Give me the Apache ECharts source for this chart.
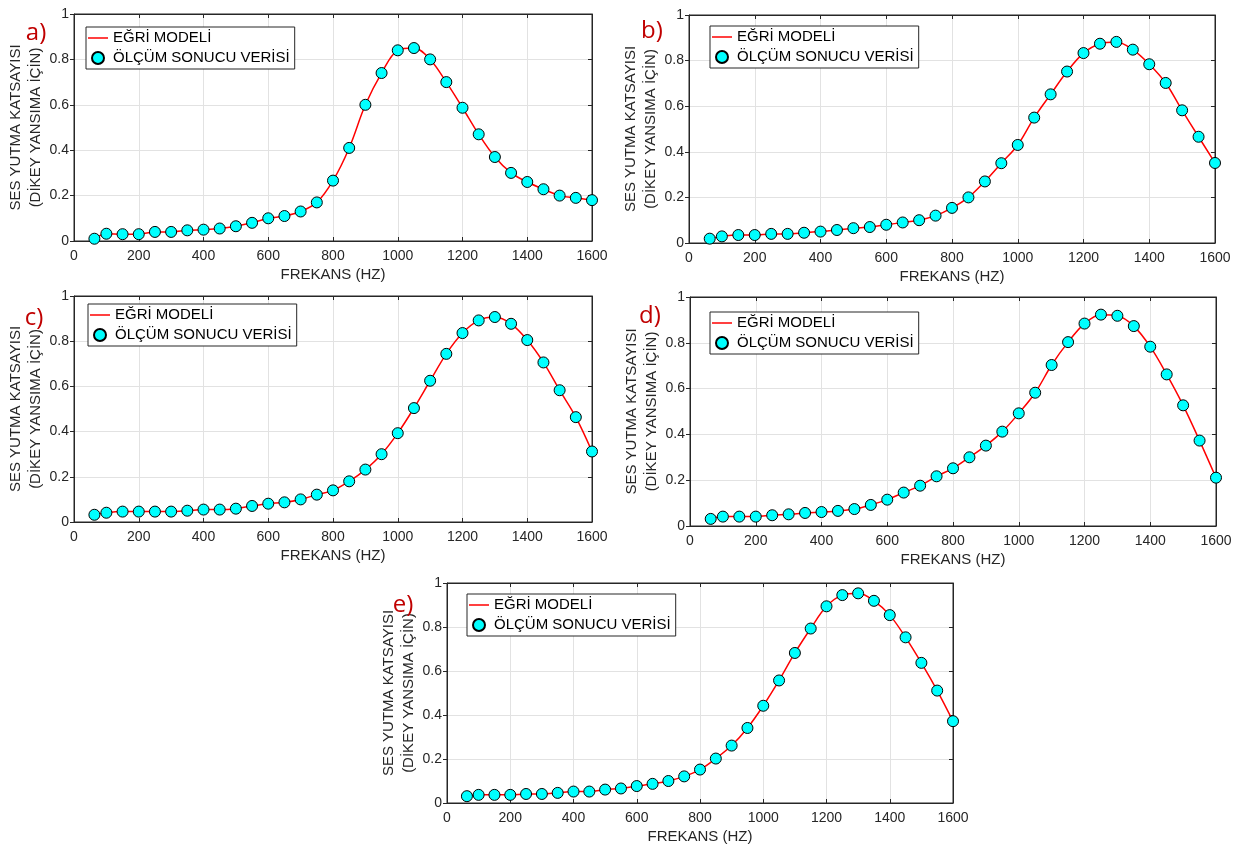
<!DOCTYPE html>
<html>
<head>
<meta charset="utf-8">
<script src="https://cdn.jsdelivr.net/npm/echarts@6/dist/echarts.min.js"></script>
<style>
html,body{margin:0;padding:0;background:#fff;}
#c{width:1239px;height:857px;}
</style>
</head>
<body>
<div id="c"></div>
<script>
// ---- data ----
const FREQ = [63,100,150,200,250,300,350,400,450,500,550,600,650,700,750,800,850,900,950,1000,1050,1100,1150,1200,1250,1300,1350,1400,1450,1500,1550,1600];
const VALUES_A = [0.010,0.032,0.030,0.030,0.040,0.040,0.047,0.050,0.055,0.065,0.080,0.100,0.110,0.130,0.170,0.266,0.410,0.600,0.740,0.840,0.850,0.800,0.700,0.587,0.470,0.370,0.300,0.260,0.228,0.200,0.190,0.180];
const VALUES_B = [0.019,0.029,0.035,0.035,0.040,0.040,0.045,0.050,0.057,0.065,0.070,0.080,0.090,0.100,0.120,0.154,0.200,0.270,0.350,0.430,0.550,0.652,0.752,0.833,0.874,0.882,0.848,0.784,0.702,0.582,0.466,0.351];
const VALUES_C = [0.032,0.041,0.046,0.046,0.046,0.046,0.050,0.055,0.055,0.059,0.071,0.081,0.087,0.100,0.121,0.140,0.180,0.232,0.300,0.393,0.504,0.625,0.744,0.836,0.892,0.907,0.877,0.805,0.706,0.583,0.464,0.312];
const VALUES_D = [0.031,0.041,0.041,0.041,0.047,0.051,0.057,0.061,0.066,0.074,0.092,0.115,0.146,0.176,0.217,0.252,0.300,0.351,0.412,0.492,0.582,0.703,0.803,0.884,0.923,0.918,0.873,0.783,0.662,0.527,0.373,0.211];
const VALUES_E = [0.031,0.037,0.037,0.037,0.041,0.041,0.046,0.052,0.052,0.061,0.066,0.077,0.087,0.100,0.121,0.152,0.202,0.261,0.341,0.442,0.557,0.682,0.793,0.894,0.945,0.953,0.919,0.854,0.753,0.637,0.511,0.372];
const PANEL_LABELS = ['a)','b)','c)','d)','e)'];
const SERIES_NAMES = ['EĞRİ MODELİ','ÖLÇÜM SONUCU VERİSİ'];
const X_NAME = 'FREKANS (HZ)';
const Y_NAME = 'SES YUTMA KATSAYISI\n(DİKEY YANSIMA İÇİN)';
const ALL_VALUES = [VALUES_A, VALUES_B, VALUES_C, VALUES_D, VALUES_E];

// ---- layout ----
const GRIDS = [
  {l:74, t:14, w:518, h:227},
  {l:689, t:15, w:526, h:228},
  {l:74, t:296, w:518, h:226},
  {l:690, t:297, w:526, h:229},
  {l:447, t:583, w:506, h:220}
];
const LEGENDS = [
  {l:86, t:27}, {l:710, t:26}, {l:88, t:304}, {l:710, t:312}, {l:467, t:594}
];
const LABEL_POS = [
  {x:36, y:33}, {x:652, y:31}, {x:34, y:318}, {x:650, y:316}, {x:403, y:605}
];

const FONT = '"Liberation Sans", Arial, sans-serif';
const AX = '#262626';
const GRIDC = '#e2e2e2';
const plainNum = v => String(Math.round(v * 1000) / 1000);

const xMain = GRIDS.map((g,i) => ({
  type:'value', gridIndex:i, position:'bottom', min:0, max:1600, interval:200,
  name:X_NAME, nameLocation:'middle', nameGap:26,
  nameTextStyle:{fontSize:15, color:AX, fontFamily:FONT},
  axisLine:{show:true, onZero:false, lineStyle:{color:AX, width:1}},
  axisTick:{show:true, inside:true, length:4, lineStyle:{color:AX}},
  axisLabel:{fontSize:14, color:AX, margin:8, fontFamily:FONT, formatter:plainNum},
  splitLine:{show:true, lineStyle:{color:GRIDC, width:1}}
}));
const xTop = GRIDS.map((g,i) => ({
  type:'value', gridIndex:i, position:'top', min:0, max:1600, interval:200,
  axisLine:{show:true, onZero:false, lineStyle:{color:AX, width:1}},
  axisTick:{show:true, inside:true, length:4, lineStyle:{color:AX}},
  axisLabel:{show:false}, splitLine:{show:false}
}));
const yMain = GRIDS.map((g,i) => ({
  type:'value', gridIndex:i, position:'left', min:0, max:1, interval:0.2,
  name:Y_NAME, nameLocation:'middle', nameGap:28, nameRotate:90,
  nameTextStyle:{fontSize:15, color:AX, lineHeight:20, fontFamily:FONT},
  axisLine:{show:true, onZero:false, lineStyle:{color:AX, width:1}},
  axisTick:{show:true, inside:false, length:4, lineStyle:{color:AX}},
  axisLabel:{fontSize:14, color:AX, margin:5, fontFamily:FONT, formatter:plainNum},
  splitLine:{show:true, lineStyle:{color:GRIDC, width:1}}
}));
const yRight = GRIDS.map((g,i) => ({
  type:'value', gridIndex:i, position:'right', min:0, max:1, interval:0.2,
  axisLine:{show:true, onZero:false, lineStyle:{color:AX, width:1}},
  axisTick:{show:true, inside:true, length:4, lineStyle:{color:AX}},
  axisLabel:{show:false}, splitLine:{show:false}
}));

const option = {
  animation: false,
  backgroundColor: '#fff',
  textStyle: {fontFamily: FONT},
  grid: GRIDS.map(g => ({left:g.l, top:g.t, width:g.w, height:g.h, show:true, borderColor:AX, borderWidth:1, backgroundColor:'#fff'})),
  xAxis: xMain.concat(xTop),
  yAxis: yMain.concat(yRight),
  legend: LEGENDS.map(p => ({
    left:p.l, top:p.t, orient:'vertical',
    backgroundColor:'#fff', borderColor:AX, borderWidth:1, borderRadius:0,
    padding:[2,5,2,2], itemGap:2, itemWidth:20, itemHeight:12,
    textStyle:{fontSize:15, color:'#000', lineHeight:18, fontFamily:FONT},
    selectedMode:false, z:10,
    data:[
      {name:SERIES_NAMES[0], icon:'path://M0,0 H20 V1.5 H0 Z'},
      {name:SERIES_NAMES[1], icon:'circle'}
    ]
  })),
  graphic: LABEL_POS.map((p,i) => ({
    type:'text', x:p.x, y:p.y, z:100,
    style:{text:PANEL_LABELS[i], fontSize:24, fontFamily:'"Open Sans", sans-serif', fill:'#c00000', align:'center', verticalAlign:'middle'}
  })),
  series: []
};

ALL_VALUES.forEach((vals, i) => {
  const pts = FREQ.map((f, k) => [f, vals[k]]);
  option.series.push({
    name:SERIES_NAMES[0], type:'line', xAxisIndex:i, yAxisIndex:i,
    data:pts, smooth:0.35, symbol:'none', z:3,
    lineStyle:{color:'#ff0000', width:1.5}, itemStyle:{color:'#ff0000'}
  });
  option.series.push({
    name:SERIES_NAMES[1], type:'scatter', xAxisIndex:i, yAxisIndex:i,
    data:pts, symbol:'circle', symbolSize:11, z:4,
    itemStyle:{color:'#00ffff', borderColor:'#000', borderWidth:1, opacity:1}
  });
});

const chart = echarts.init(document.getElementById('c'), null, {renderer:'canvas'});
chart.setOption(option);
</script>
</body>
</html>
